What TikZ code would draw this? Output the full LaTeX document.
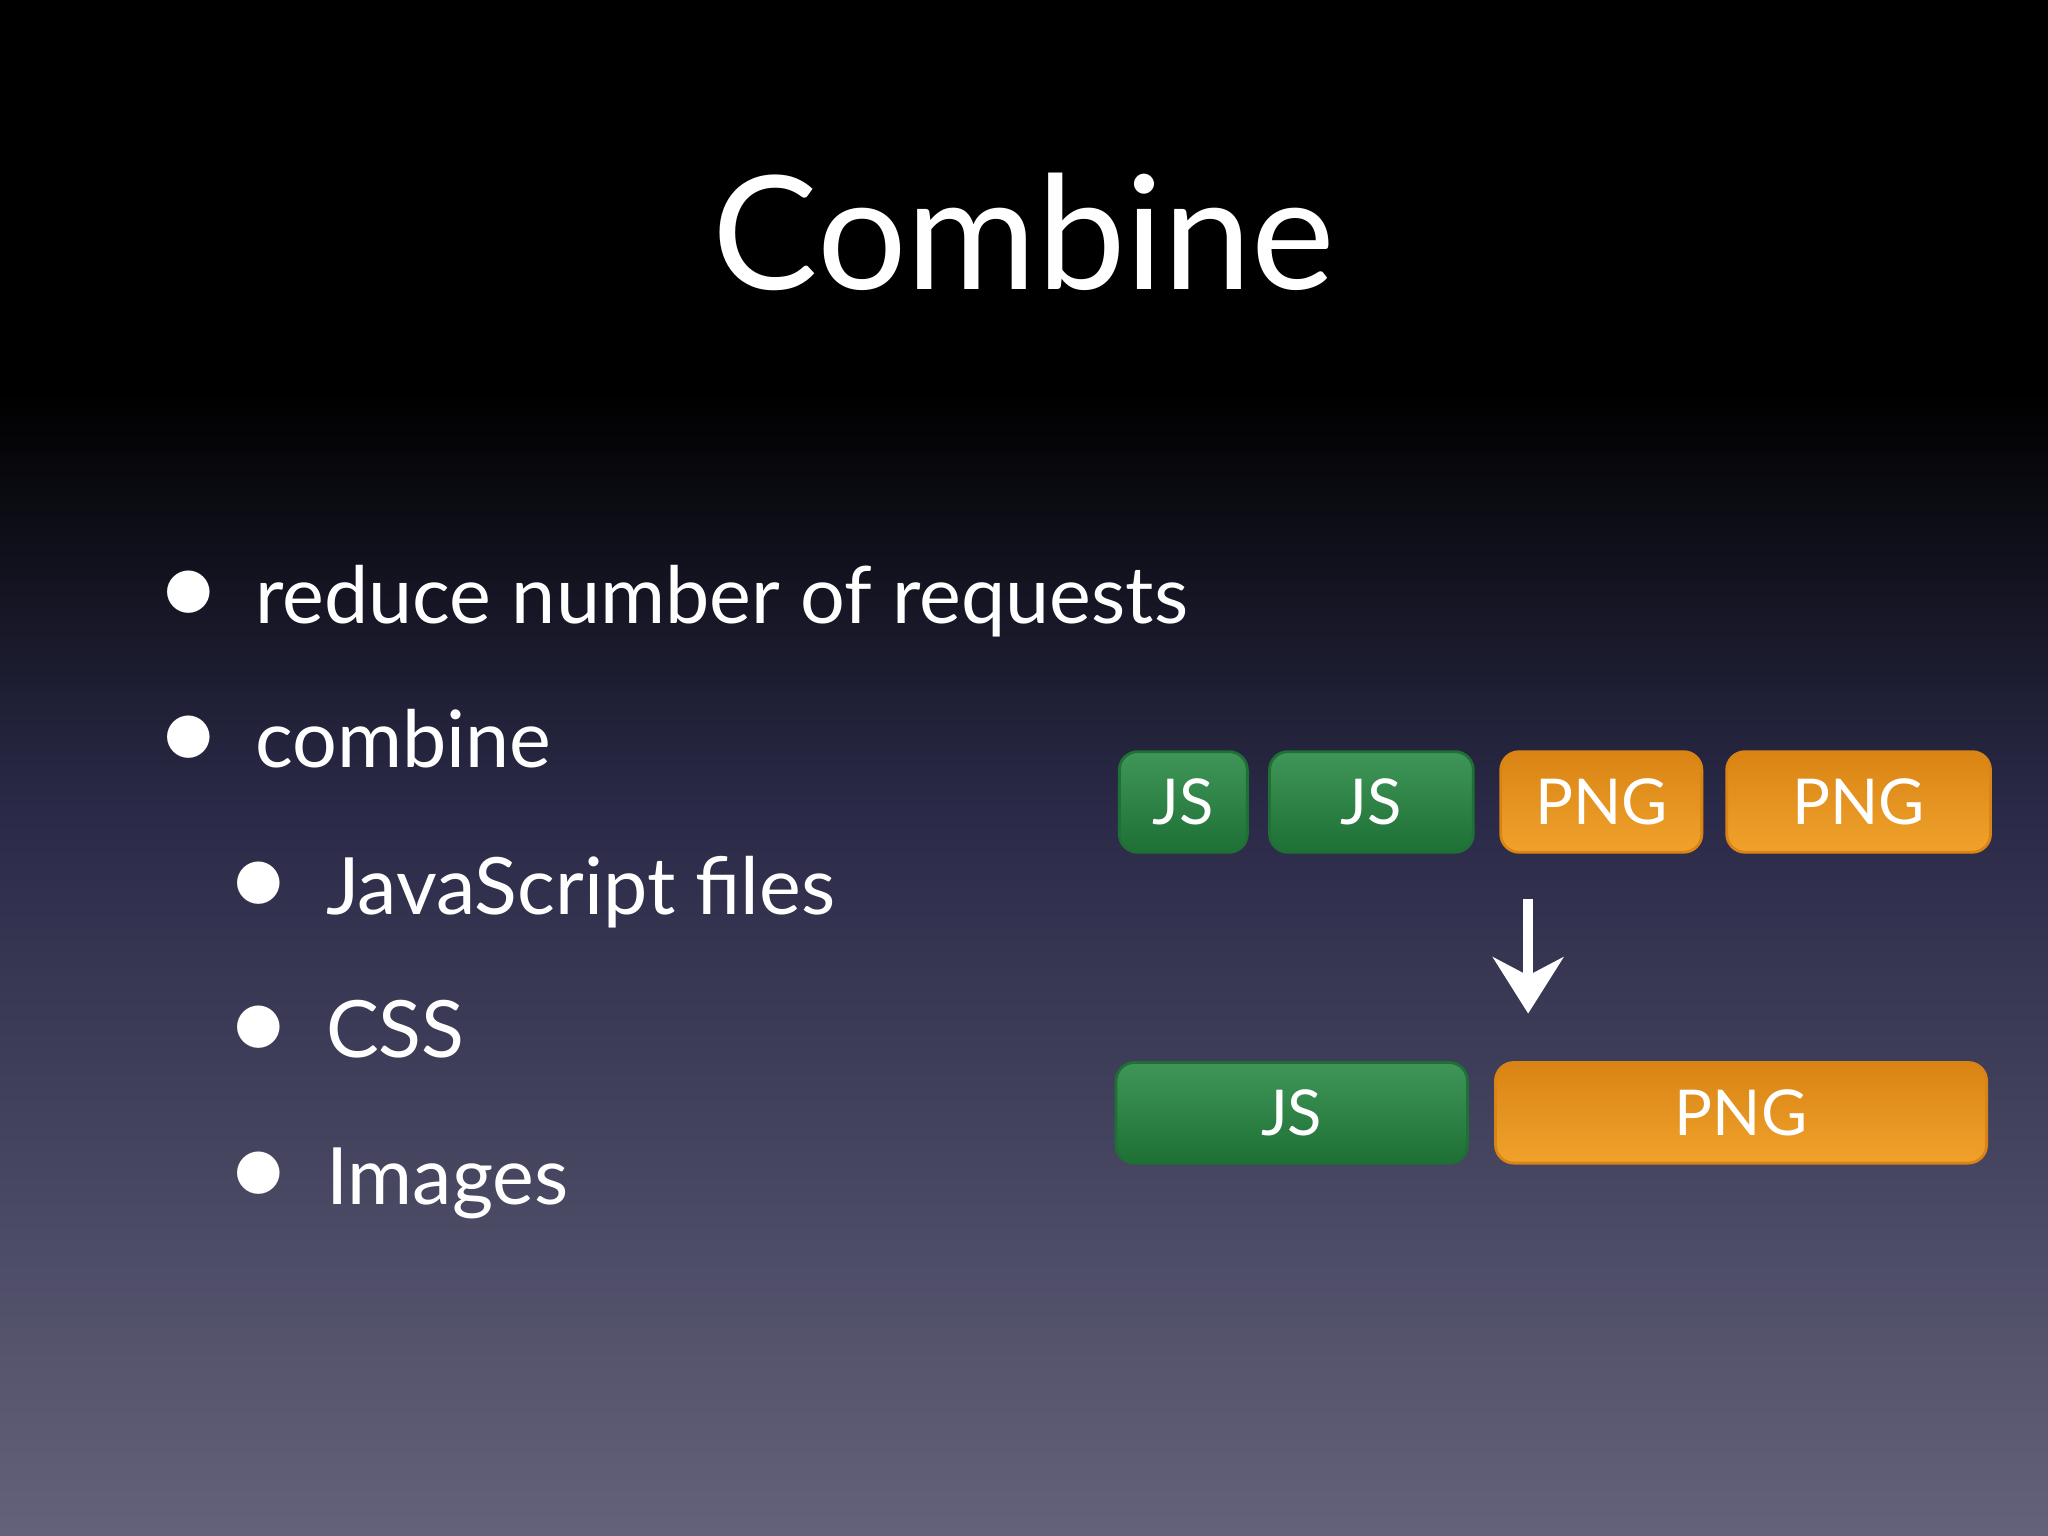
\documentclass[tikz,border=0pt]{standalone}
\usepackage{fontspec}
\setmainfont{Lato}
\usetikzlibrary{arrows.meta}
\def\u{0.01306cm}
\definecolor{slatebot}{HTML}{64627A}
\definecolor{slatemid}{HTML}{2A2A48}
\definecolor{jsgreen}{HTML}{2A8A45}
\definecolor{jsdark}{HTML}{1E7035}
\definecolor{pngorange}{HTML}{F0A22C}
\definecolor{pngdark}{HTML}{D98414}
\newcommand{\dotmark}{\raisebox{0.05em}{\scalebox{1.5}{$\bullet$}}\hspace{0.5em}}
\tikzset{
  jsbox/.style={rounded corners=14*\u, draw=jsdark, thick, top color=jsgreen!90!white, bottom color=jsdark,
    text=white, font=\fontsize{18}{21}\selectfont, minimum height=77*\u, inner sep=0pt},
  pngbox/.style={rounded corners=14*\u, draw=pngdark, thick, top color=pngdark, bottom color=pngorange,
    text=white, font=\fontsize{18}{21}\selectfont, minimum height=77*\u, inner sep=0pt},
  bullet/.style={anchor=base west, text=white, font=\fontsize{22.5}{26}\selectfont},
}
\begin{document}
\begin{tikzpicture}[x=0.01306cm, y=-0.01306cm]
% background
	\useasboundingbox (0,0) rectangle (1568,1176);
	\fill[black] (0,0) rectangle (1568,300);
	\shade[top color=black, bottom color=slatemid] (0,299) rectangle (1568,620);
	\shade[top color=slatemid, bottom color=slatebot] (0,619) rectangle (1568,1176);

% title
	\node[text=white, font=\fontsize{45}{50}\selectfont, anchor=base] (title) at (784,222) {Combine};

% bullets
	\node[bullet] (b1) at (114,477) {\dotmark reduce number of requests};
	\node[bullet] (b2) at (114,588) {\dotmark combine};
	\node[bullet] (b3) at (168,700) {\dotmark JavaScript files};
	\node[bullet] (b4) at (168,810) {\dotmark CSS};
	\node[bullet] (b5) at (168,922) {\dotmark Images};

% separate files
	\node[jsbox, minimum width=98*\u] (js1) at (906,614) {JS};
	\node[jsbox, minimum width=156*\u] (js2) at (1050,614) {JS};
	\node[pngbox, minimum width=154*\u] (png1) at (1226,614) {PNG};
	\node[pngbox, minimum width=202*\u] (png2) at (1423,614) {PNG};

% combined files
	\node[jsbox, minimum width=269*\u] (jsall) at (989,852) {JS};
	\node[pngbox, minimum width=376*\u] (pngall) at (1333,852) {PNG};

% arrow
	\coordinate (from) at (1170,688);
	\coordinate (to) at (1170,776);
	\draw[white, line width=3pt, -{Stealth[length=16pt, width=20pt]}] (from) -- (to);
\end{tikzpicture}
\end{document}
